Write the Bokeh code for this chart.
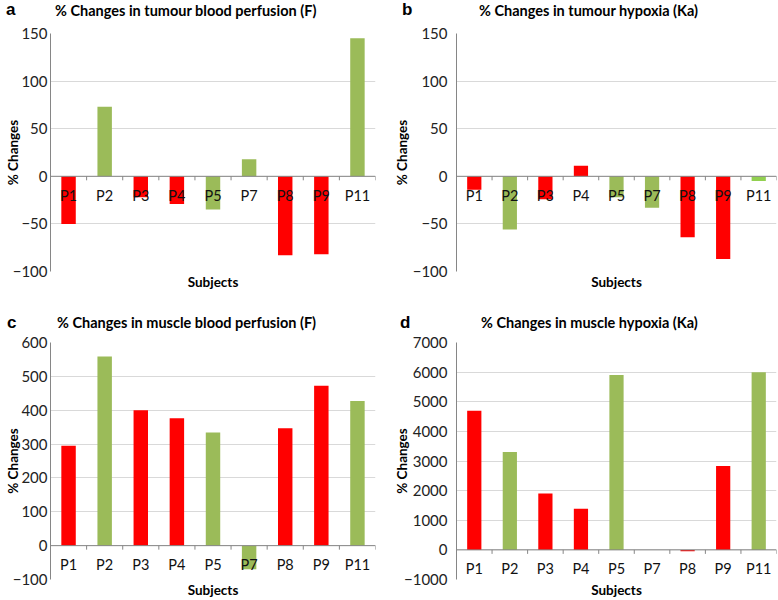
from bokeh.plotting import figure
from bokeh.models import Range1d, Span, SingleIntervalTicker, FixedTicker, Div
from bokeh.layouts import column, row
from bokeh.embed import file_html
from bokeh.resources import INLINE
from bokeh.core.properties import value

subjects = ["P1", "P2", "P3", "P4", "P5", "P7", "P8", "P9", "P11"]
RED = "#FF0000"
GREEN = "#9BBB59"
LIGHT_GREEN = "#92D050"
colors_main = [RED, GREEN, RED, RED, GREEN, GREEN, RED, RED, GREEN]
colors_b = [RED, GREEN, RED, RED, GREEN, GREEN, RED, RED, LIGHT_GREEN]

tumour_perfusion = [-50, 73, -22, -29, -35, 18, -83, -82, 145]
tumour_hypoxia = [-14, -56, -24, 11, -22, -33, -64, -87, -5]
muscle_perfusion = [295, 559, 400, 376, 334, -70, 347, 472, 427]
muscle_hypoxia = [4700, 3300, 1900, 1390, 5900, 0, -50, 2830, 6000]

titles = ["% Changes in tumour blood perfusion (F)",
          "% Changes in tumour hypoxia (Ka)",
          "% Changes in muscle blood perfusion (F)",
          "% Changes in muscle hypoxia (Ka)"]
letters = ["a", "b", "c", "d"]

FONT = "Lato"
GRID = "#D9D9D9"
AXIS = "#868686"


def make_header(letter, title, width, height, letter_left, letter_top, title_left, title_top):
    html = (
        f'<div style="position:relative;width:{width}px;height:{height}px;">'
        f'<span style="position:absolute;left:{letter_left}px;top:{letter_top}px;'
        f'font-family:\'Liberation Sans\';font-weight:bold;font-size:17px;line-height:17px;color:#000;">{letter}</span>'
        f'<span style="position:absolute;left:{title_left}px;top:{title_top}px;white-space:nowrap;'
        f'font-family:Lato;font-weight:bold;font-size:14.5px;line-height:14px;color:#000;">{title}</span>'
        f'</div>'
    )
    return Div(text=html, width=width, height=height, margin=0)


def make_panel(vals, cols, ymin, ymax, step, width, height,
               bl, br, bt, bb, tick_standoff, label_standoff):
    n = len(subjects)
    p = figure(width=width, height=height, output_backend="svg", toolbar_location=None,
               x_range=Range1d(0, n), y_range=Range1d(ymin, ymax),
               min_border_left=bl, min_border_right=br, min_border_top=bt, min_border_bottom=bb)
    frame_h = height - bt - bb
    p.outline_line_color = None
    p.background_fill_color = "white"
    p.border_fill_color = "white"
    p.xgrid.grid_line_color = None
    p.ygrid.grid_line_color = GRID
    p.ygrid.ticker = SingleIntervalTicker(interval=step)

    p.yaxis.ticker = SingleIntervalTicker(interval=step)
    p.yaxis.axis_line_color = AXIS
    p.yaxis.major_tick_line_color = None
    p.yaxis.minor_tick_line_color = None
    p.yaxis.major_tick_out = 0
    p.yaxis.major_tick_in = 0
    p.yaxis.major_label_standoff = tick_standoff
    p.yaxis.major_label_text_font = FONT
    p.yaxis.major_label_text_font_size = "15px"
    p.yaxis.major_label_text_color = "#222222"
    p.yaxis.axis_label = "% Changes"
    p.yaxis.axis_label_text_font = FONT
    p.yaxis.axis_label_text_font_size = "13.5px"
    p.yaxis.axis_label_text_font_style = "bold"
    p.yaxis.axis_label_text_color = "#000000"
    p.yaxis.axis_label_standoff = label_standoff

    p.xaxis.ticker = FixedTicker(ticks=[])
    p.xaxis.axis_line_color = None
    p.xaxis.major_tick_line_color = None
    p.xaxis.minor_tick_line_color = None
    p.xaxis.axis_label = "Subjects"
    p.xaxis.axis_label_text_font = FONT
    p.xaxis.axis_label_text_font_size = "13.5px"
    p.xaxis.axis_label_text_font_style = "bold"
    p.xaxis.axis_label_text_color = "#000000"
    p.xaxis.axis_label_standoff = 2

    xs = [i + 0.5 for i in range(n)]
    p.vbar(x=xs, top=vals, bottom=0, width=0.4, fill_color=cols, line_color=None)

    p.add_layout(Span(location=0, dimension="width", line_color=AXIS, line_width=1))
    tick_len = 4 * (ymax - ymin) / frame_h
    bounds = list(range(n + 1))
    p.segment(x0=bounds, y0=[0] * len(bounds), x1=bounds, y1=[-tick_len] * len(bounds),
              line_color=AXIS, line_width=1)

    p.text(x=xs, y=[0] * n, text=subjects, text_align="center", text_baseline="middle",
           y_offset=19, text_font=value(FONT), text_font_size="14.5px", text_color="#111111")
    return p


ha = make_header(letters[0], titles[0], 388, 24, 6, 1, 55, 4)
hb = make_header(letters[1], titles[1], 390, 24, 14, 1, 91, 4)
hc = make_header(letters[2], titles[2], 388, 34, 7, 14, 57, 16)
hd = make_header(letters[3], titles[3], 390, 34, 12, 14, 93, 16)

pa = make_panel(tumour_perfusion, colors_main, -100, 150, 50, 388, 276, 50, 13, 9, 29, -1, -11)
pb = make_panel(tumour_hypoxia, colors_b, -100, 150, 50, 390, 276, 68, 2, 9, 29, 5, 0)
pc = make_panel(muscle_perfusion, colors_main, -100, 600, 100, 388, 266, 50, 13, 8, 21, -1, -11)
pd = make_panel(muscle_hypoxia, colors_main, -1000, 7000, 1000, 390, 266, 68, 2, 8, 21, 5, -9)

layout = column(row(column(ha, pa), column(hb, pb)),
                row(column(hc, pc), column(hd, pd)))

open("out.html", "w").write(file_html(layout, INLINE))
